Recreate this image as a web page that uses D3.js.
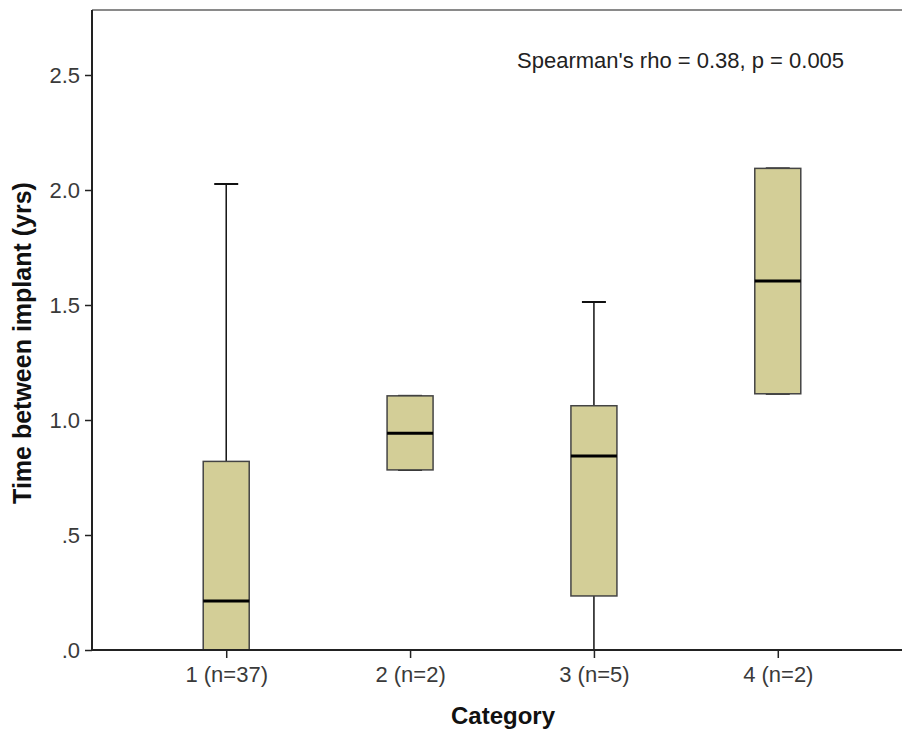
<!DOCTYPE html>
<html>
<head>
<meta charset="utf-8">
<script src="https://cdn.jsdelivr.net/npm/d3@7"></script>
<style>
  body { margin: 0; background: #fff; }
  text { font-family: "Liberation Sans", Arial, sans-serif; }
</style>
</head>
<body>
<svg width="902" height="731"></svg>
<script>
// box plot values
var categories = ["1 (n=37)", "2 (n=2)", "3 (n=5)", "4 (n=2)"];
var whiskerLow = [0.0, 0.783, 0.0, 1.114];
var q1 = [0.0, 0.783, 0.235, 1.114];
var median = [0.213, 0.942, 0.843, 1.604];
var q3 = [0.82, 1.105, 1.062, 2.094];
var whiskerHigh = [2.026, 1.105, 1.513, 2.094];
var yTicks = [0, 0.5, 1.0, 1.5, 2.0, 2.5];
var yTickLabels = [".0", ".5", "1.0", "1.5", "2.0", "2.5"];

var svg = d3.select("svg"),
    plotLeft = 92, plotRight = 912, plotTop = 10, plotBottom = 650;

var x = d3.scalePoint()
    .domain(categories)
    .range([plotLeft, plotRight])
    .padding(0.73);

var y = d3.scaleLinear()
    .domain([0, 2.7826])
    .range([plotBottom, plotTop]);

var boxW = 46, capW = 24;

var rows = categories.map(function(c, i) {
    return { cat: c, lo: whiskerLow[i], q1: q1[i], med: median[i], q3: q3[i], hi: whiskerHigh[i] };
});

// top frame line
svg.append("line")
    .attr("x1", plotLeft).attr("x2", 902)
    .attr("y1", plotTop).attr("y2", plotTop)
    .attr("stroke", "#8a8a8a").attr("stroke-width", 2);

var g = svg.selectAll("g.box")
    .data(rows)
    .enter()
    .append("g")
    .attr("class", "box");

// whiskers
g.append("line")
    .attr("x1", function(d) { return x(d.cat); })
    .attr("x2", function(d) { return x(d.cat); })
    .attr("y1", function(d) { return y(d.hi); })
    .attr("y2", function(d) { return y(d.q3); })
    .attr("stroke", "#111").attr("stroke-width", 1.5);

g.append("line")
    .attr("x1", function(d) { return x(d.cat); })
    .attr("x2", function(d) { return x(d.cat); })
    .attr("y1", function(d) { return y(d.q1); })
    .attr("y2", function(d) { return y(d.lo); })
    .attr("stroke", "#111").attr("stroke-width", 1.5);

g.append("line")
    .attr("x1", function(d) { return x(d.cat) - capW / 2; })
    .attr("x2", function(d) { return x(d.cat) + capW / 2; })
    .attr("y1", function(d) { return y(d.hi); })
    .attr("y2", function(d) { return y(d.hi); })
    .attr("stroke", "#111").attr("stroke-width", 2);

g.append("line")
    .attr("x1", function(d) { return x(d.cat) - capW / 2; })
    .attr("x2", function(d) { return x(d.cat) + capW / 2; })
    .attr("y1", function(d) { return y(d.lo); })
    .attr("y2", function(d) { return y(d.lo); })
    .attr("stroke", "#111").attr("stroke-width", 2);

// boxes
g.append("rect")
    .attr("x", function(d) { return x(d.cat) - boxW / 2; })
    .attr("width", boxW)
    .attr("y", function(d) { return y(d.q3); })
    .attr("height", function(d) { return y(d.q1) - y(d.q3); })
    .attr("fill", "#d3ce97")
    .attr("stroke", "#444").attr("stroke-width", 1.5);

g.append("line")
    .attr("x1", function(d) { return x(d.cat) - boxW / 2; })
    .attr("x2", function(d) { return x(d.cat) + boxW / 2; })
    .attr("y1", function(d) { return y(d.med); })
    .attr("y2", function(d) { return y(d.med); })
    .attr("stroke", "#000").attr("stroke-width", 3);

// axes
var yAxis = d3.axisLeft(y)
    .tickValues(yTicks)
    .tickFormat(function(d, i) { return yTickLabels[i]; })
    .tickSize(7).tickPadding(5);

var xAxis = d3.axisBottom(x).tickSize(8).tickPadding(8);

var ya = svg.append("g")
    .attr("transform", "translate(" + plotLeft + ",0)")
    .call(yAxis);
ya.select(".domain").attr("d", "M0," + plotTop + "V" + plotBottom).attr("stroke", "#222").attr("stroke-width", 2);

var xa = svg.append("g")
    .attr("transform", "translate(0," + plotBottom + ")")
    .call(xAxis);
xa.select(".domain").attr("d", "M" + plotLeft + ",0H902").attr("stroke", "#222").attr("stroke-width", 2);

svg.selectAll(".tick line").attr("stroke", "#222").attr("stroke-width", 1.5);
svg.selectAll(".tick text")
    .attr("fill", "#3a3a3a")
    .style("font-size", "22px")
    .style("font-family", "'Liberation Sans', Arial, sans-serif");

// labels
svg.append("text")
    .attr("transform", "translate(31,343) rotate(-90)")
    .attr("text-anchor", "middle")
    .attr("font-weight", "bold")
    .attr("font-size", "25px")
    .attr("fill", "#111")
    .text("Time between implant (yrs)");

svg.append("text")
    .attr("x", 503).attr("y", 724)
    .attr("text-anchor", "middle")
    .attr("font-weight", "bold")
    .attr("font-size", "24px")
    .attr("fill", "#111")
    .text("Category");

svg.append("text")
    .attr("x", 517).attr("y", 68)
    .attr("font-size", "22px")
    .attr("fill", "#222")
    .text("Spearman's rho = 0.38, p = 0.005");
</script>
</body>
</html>
